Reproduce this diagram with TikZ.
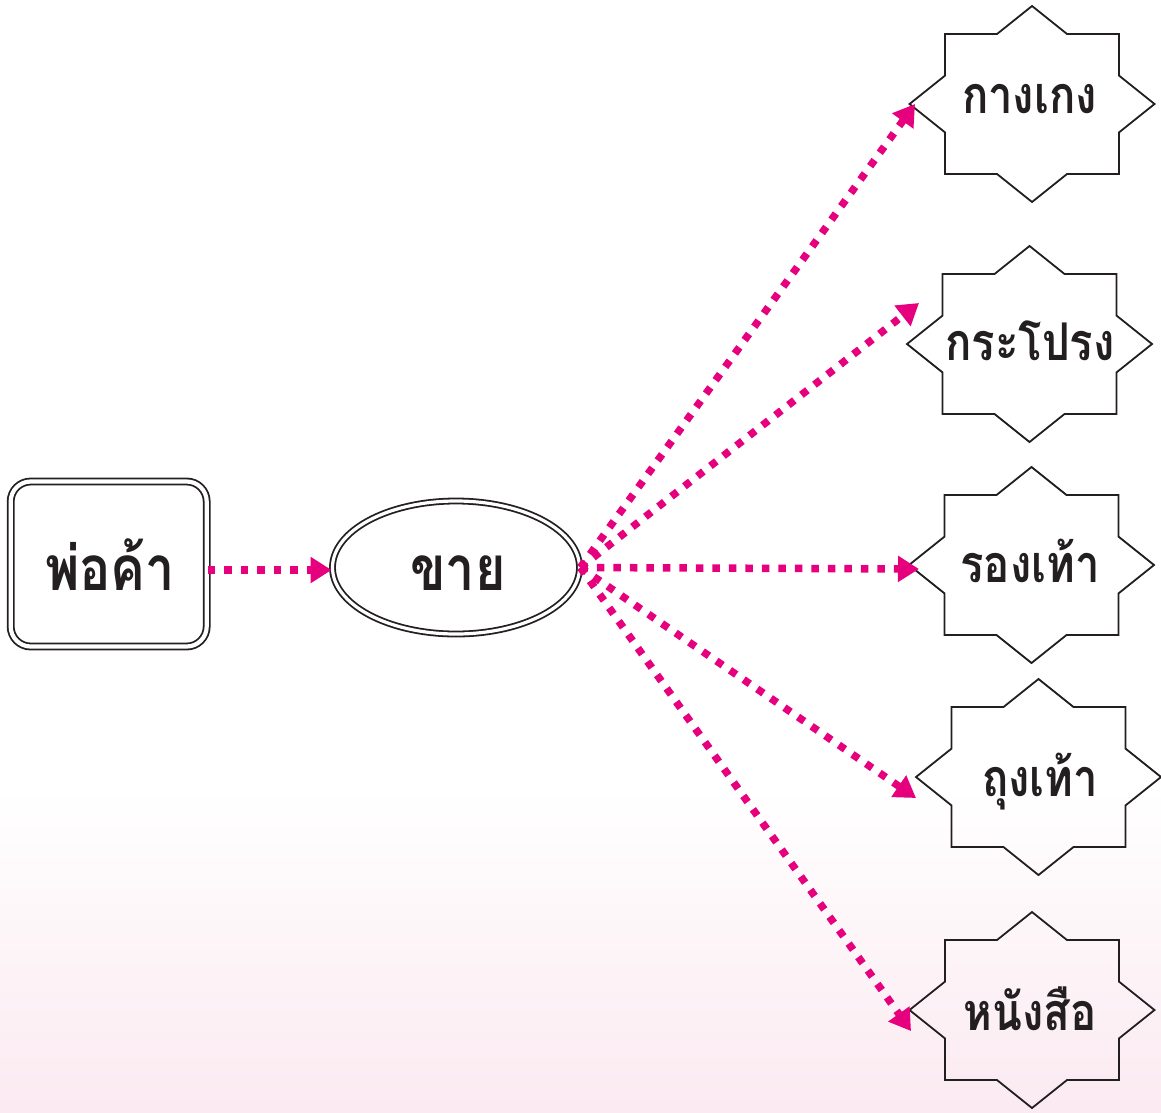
\documentclass[tikz,border=0pt]{standalone}
\usepackage{fontspec}
\newfontfamily\thaifont[Script=Thai,FakeStretch=0.84]{Loma}
\usetikzlibrary{arrows.meta,shapes.geometric,calc}
\definecolor{mag}{RGB}{230,0,126}
\definecolor{bgpink}{RGB}{251,234,241}
\definecolor{ink}{RGB}{35,31,32}
\newcommand\mystarshape[1]{\draw[starline, shift={(#1)}] (0,-98) -- (35,-70) -- (87,-70) -- (87,-28.4) -- (122.5,0) -- (87,28.4) -- (87,70) -- (35,70) -- (0,98) -- (-35,70) -- (-87,70) -- (-87,28.4) -- (-122.5,0) -- (-87,-28.4) -- (-87,-70) -- (-35,-70) -- cycle;}
\begin{document}
\begin{tikzpicture}[x=1pt,y=-1pt,
  biglbl/.style={font=\thaifont\bfseries\fontsize{62}{62}\selectfont, text=ink, inner sep=0pt, anchor=base},
  slbl/.style={font=\thaifont\bfseries\fontsize{52}{52}\selectfont, text=ink, inner sep=0pt, anchor=base},
  dbl/.style={draw=ink, line width=1.8pt, double=white},
  arr/.style={draw=mag, line width=7.5pt, dash pattern=on 7.5pt off 9pt, -{Triangle[length=21pt,width=25pt]}},
  starline/.style={draw=ink, line width=1.8pt, line join=miter}
]
\useasboundingbox (0,0) rectangle (1161,1112);
\fill[white] (0,0) rectangle (1161,788);
\shade[top color=white, bottom color=bgpink] (0,788) rectangle (1161,1112);

% main shapes
\node[dbl, double distance=4.2pt, rectangle, rounded corners=20pt, minimum width=196pt, minimum height=165pt, inner sep=0pt] (box) at (108.7,564) {};
\node[dbl, double distance=3.2pt, ellipse, minimum width=247pt, minimum height=133pt, inner sep=0pt] (ell) at (456,567.5) {};
\node[biglbl] (boxtxt) at (110,590) {พ่อค้า};
\node[biglbl] (elltxt) at (458,590) {ขาย};

% stars
\coordinate (s1) at (1032,104);
\coordinate (s2) at (1029.5,344);
\coordinate (s3) at (1031.5,565);
\coordinate (s4) at (1038.5,777);
\coordinate (s5) at (1032,1010);
\mystarshape{s1}
\mystarshape{s2}
\mystarshape{s3}
\mystarshape{s4}
\mystarshape{s5}
\node[slbl] (t1) at (1029.5,113) {กางเกง};
\node[slbl] (t2) at (1030,360) {กระโปรง};
\node[slbl] (t3) at (1030,582) {รองเท้า};
\node[slbl] (t4) at (1040,796) {ถุงเท้า};
\node[slbl] (t5) at (1030,1030) {หนังสือ};

% arrow tips
\coordinate (h0) at (0,570);
\coordinate (p1) at (915,104);
\coordinate (p2) at (919,303);
\coordinate (p3) at (919,569);
\coordinate (p4) at (916,798);
\coordinate (p5) at (911,1031);

\draw[arr] (box.east |- h0) -- (ell.west |- h0);
\draw[arr] (ell.east) -- (p1);
\draw[arr] (ell.east) -- (p2);
\draw[arr] (ell.east) -- (p3);
\draw[arr] (ell.east) -- (p4);
\draw[arr] (ell.east) -- (p5);
\end{tikzpicture}
\end{document}
